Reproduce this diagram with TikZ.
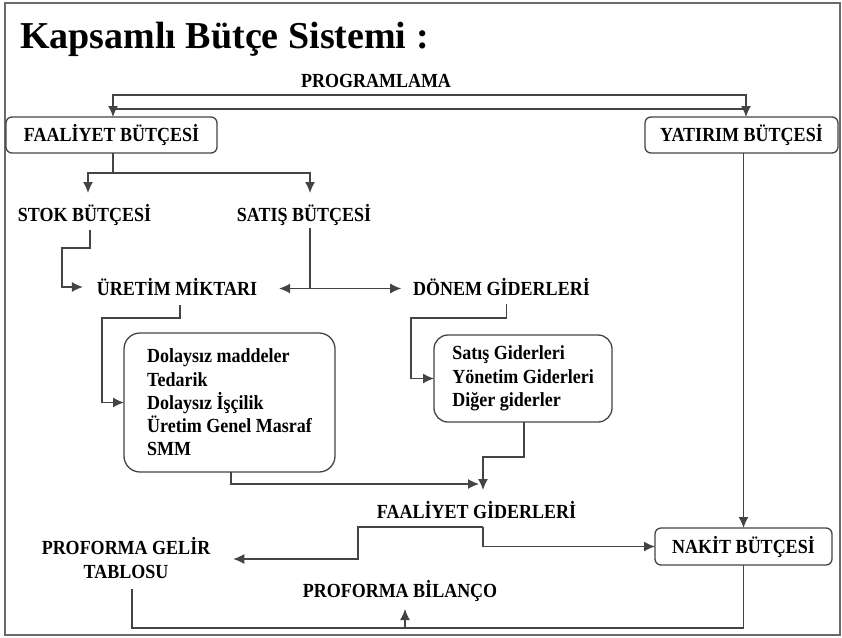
\documentclass[tikz,border=0pt]{standalone}
\usepackage{fontspec}
\setmainfont{Liberation Serif}
\newfontfamily\lblfont{Liberation Serif}[FakeStretch=0.9]
\usetikzlibrary{arrows.meta}
\definecolor{linegray}{HTML}{444444}
\definecolor{framegray}{HTML}{6A6A6A}

\begin{document}
\begin{tikzpicture}[x=1pt,y=-1pt,
  lbl/.style={font=\lblfont\bfseries\fontsize{20}{23.3}\selectfont,
    inner sep=0pt, outer sep=0pt, text height=13pt, text depth=0pt, anchor=base},
  lbltwo/.style={font=\lblfont\bfseries\fontsize{20}{23.3}\selectfont,
    inner sep=0pt, outer sep=0pt, align=center},
  rbox/.style={draw=linegray, line width=1.3pt, rounded corners=6pt, fill=white,
    font=\lblfont\bfseries\fontsize{20}{23.3}\selectfont, inner sep=0pt, outer sep=0pt},
  listbox/.style={rbox, align=left},
  ln/.style={draw=linegray, line width=1.3pt},
  tip/.tip={Latex[length=11pt,width=10pt]},
  ar/.style={ln, -tip},
  arboth/.style={ln, tip-tip}
]
\useasboundingbox (0,0) rectangle (842,637);
\draw[framegray, line width=2pt] (5,3) rectangle (840,635);

% heading
\node[anchor=base west, inner sep=0pt, font=\bfseries\fontsize{38}{44}\selectfont]
  (title) at (20,48) {Kapsamlı Bütçe Sistemi :};

% budget nodes
\node[lbl] (prog) at (376,87) {PROGRAMLAMA};
\node[rbox, minimum width=211pt, minimum height=36pt] (fb) at (111.5,135) {FAALİYET BÜTÇESİ};
\node[rbox, minimum width=193pt, minimum height=36pt] (yb) at (741.5,135) {YATIRIM BÜTÇESİ};
\node[lbl] (stok) at (84.5,221) {STOK BÜTÇESİ};
\node[lbl] (satis) at (304,221) {SATIŞ BÜTÇESİ};
\node[lbl] (uretim) at (177,295) {ÜRETİM MİKTARI};
\node[lbl] (donem) at (501.5,295) {DÖNEM GİDERLERİ};
\node[listbox, rounded corners=16pt, minimum width=211pt, minimum height=139pt]
  (box1) at (229.5,402.5)
  {Dolaysız maddeler\\Tedarik\\Dolaysız İşçilik\\Üretim Genel Masraf\\SMM};
\node[listbox, rounded corners=14pt, minimum width=178pt, minimum height=87pt]
  (box2) at (523,378.5)
  {Satış Giderleri\\Yönetim Giderleri\\Diğer giderler};
\node[lbl] (fg) at (476.5,518) {FAALİYET GİDERLERİ};
\node[rbox, minimum width=177pt, minimum height=37pt] (nb) at (743.5,546.5) {NAKİT BÜTÇESİ};
\node[lbltwo] (pg) at (126,558) {PROFORMA GELİR\\TABLOSU};
\node[lbl] (pb) at (400,597) {PROFORMA BİLANÇO};

% programming bracket
\coordinate (pl) at (113,95);
\coordinate (pr) at (746,95);
\coordinate (pl2) at (113,109);
\draw[arboth] (fb.north -| pl) -- (pl) -- (pr) -- (yb.north -| pr);
\draw[ln] (pl2) -- (pl2 -| pr);

% operating budget split
\draw[ln] ([xshift=1.5pt]fb.south) -- ++(0,20) coordinate (fbsplit);
\draw[ar] (fbsplit) -| ([xshift=3.5pt,yshift=15pt]stok.north);
\draw[ar] (fbsplit) -| ([xshift=6pt,yshift=15pt]satis.north);

% stock budget to production quantity
\draw[ar] ([xshift=5.5pt,yshift=-9pt]stok.south) -- ++(0,18) -- ++(-28,0)
  |- ([xshift=-14pt,yshift=1.5pt]uretim.west);

% sales budget to production and period expenses
\draw[ln] ([xshift=6pt,yshift=-7pt]satis.south) coordinate (s0) -- (s0 |- uretim.west) coordinate (ssplit);
\draw[ar] (ssplit) -- ([xshift=22pt]uretim.east);
\draw[ar] (ssplit) -- ([xshift=-12pt]donem.west);

% into the detail boxes
\draw[ar] ([xshift=3pt,yshift=-10pt]uretim.south) |- (102,318) |- (box1.west);
\draw[ar] ([xshift=5pt,yshift=-9pt]donem.south) |- (411,318) |- (box2.west);

% detail boxes to operating expenses
\coordinate (fgin) at ([xshift=6.5pt,yshift=15pt]fg.north);
\draw[ar] ([xshift=1.5pt]box1.south) |- ([xshift=-4pt,yshift=6pt]fgin);
\draw[ar] ([xshift=1pt]box2.south) -- ++(0,35) -| (fgin);

% operating expenses to income statement and cash budget
\coordinate (fgout) at ([xshift=6.5pt,yshift=-9pt]fg.south);
\draw[ar] (fgout) -- ++(-125,0) |- ([xshift=23pt,yshift=-1pt]pg.east);
\draw[ar] (fgout) |- (nb.west);

% investment budget to cash budget
\draw[ar] (nb.north |- yb.south) -- (nb.north);

% bottom loop to the balance sheet
\coordinate (bot) at (405,628);
\draw[ln] ([xshift=6pt,yshift=-11pt]pg.south) |- (bot) -| (nb.south);
\draw[ar] (bot) -- ([xshift=5pt,yshift=-12pt]pb.south);
\end{tikzpicture}
\end{document}
